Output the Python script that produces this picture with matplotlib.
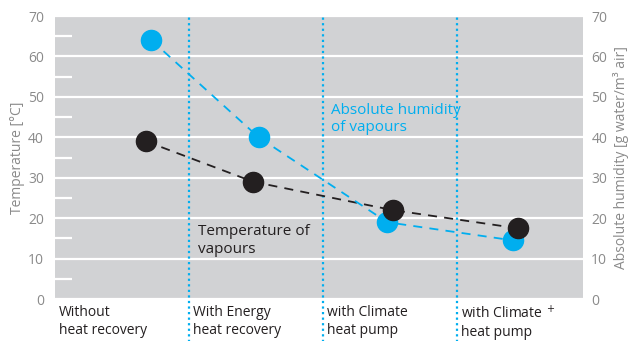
import matplotlib.pyplot as plt
import numpy as np

plt.rcParams['font.family'] = ['Open Sans', 'DejaVu Sans']

# categories and values
categories = ['Without\nheat recovery', 'With Energy\nheat recovery',
              'with Climate\nheat pump', 'with Climate $^+$\nheat pump']
humidity_x = [0.22, 1.02, 1.98, 2.92]
humidity = [64, 40, 19, 14.5]
temp_x = [0.18, 0.98, 2.02, 2.955]
temperature = [39, 29, 22, 17.5]
yticks = [0, 10, 20, 30, 40, 50, 60, 70]

blue = '#00AEEF'
dark = '#231F20'
grey_txt = '#8A8A8A'

fig = plt.figure(figsize=(6.33, 3.41), dpi=100)
ax = fig.add_axes([0.0869, 0.123, 0.834, 0.830])
ax.set_facecolor('#D1D2D4')
for s in ax.spines.values():
    s.set_visible(False)

ax.set_xlim(-0.5, 3.44)
ax.set_ylim(0, 70)
ax.set_yticks(yticks)
ax.set_yticks(np.arange(5, 70, 10), minor=True)
ax.yaxis.grid(True, which='major', color='white', lw=1.6)
ax.set_axisbelow(True)
ax.set_xticks([])
ax.tick_params(axis='y', which='major', length=0, labelcolor=grey_txt, labelsize=10, pad=8)
ax.tick_params(axis='y', which='minor', direction='in', length=12, width=1.6,
               color='white', left=True, right=True)
ax.set_ylabel('Temperature [°C]', color=grey_txt, fontsize=10, labelpad=2)

ax2 = ax.twinx()
ax2.set_ylim(0, 70)
ax2.set_yticks(yticks)
for s in ax2.spines.values():
    s.set_visible(False)
ax2.tick_params(axis='y', length=0, labelcolor=grey_txt, labelsize=10, pad=6)
ax2.set_ylabel('Absolute humidity [g water/m³ air]', color=grey_txt, fontsize=10, labelpad=4)

# dotted dividers, reaching below the plot
for xd in [0.5, 1.5, 2.5]:
    ax.axvline(xd, ymin=-0.16, ymax=1, color=blue, lw=1.6, ls=(0, (1, 1.5)), clip_on=False)

ax.plot(temp_x, temperature, color=dark, lw=1.3, ls=(0, (5, 4)), zorder=3)
ax.plot(humidity_x, humidity, color=blue, lw=1.3, ls=(0, (5, 4)), zorder=3)
ax.plot(humidity_x, humidity, 'o', color=blue, ms=14.5, zorder=4)
ax.plot(temp_x, temperature, 'o', color=dark, ms=14.5, zorder=5)

ax.text(1.56, 44.5, 'Absolute humidity\nof vapours', color=blue, fontsize=11,
        va='center', ha='left', linespacing=1.2)
ax.text(0.57, 14.5, 'Temperature of\nvapours', color=dark, fontsize=11,
        va='center', ha='left', linespacing=1.2)

for i, lab in enumerate(categories):
    ax.text(i - 0.47, -1.5, lab, color=dark, fontsize=10, va='top', ha='left',
            linespacing=1.25)

fig.savefig('out.png', dpi=100)
